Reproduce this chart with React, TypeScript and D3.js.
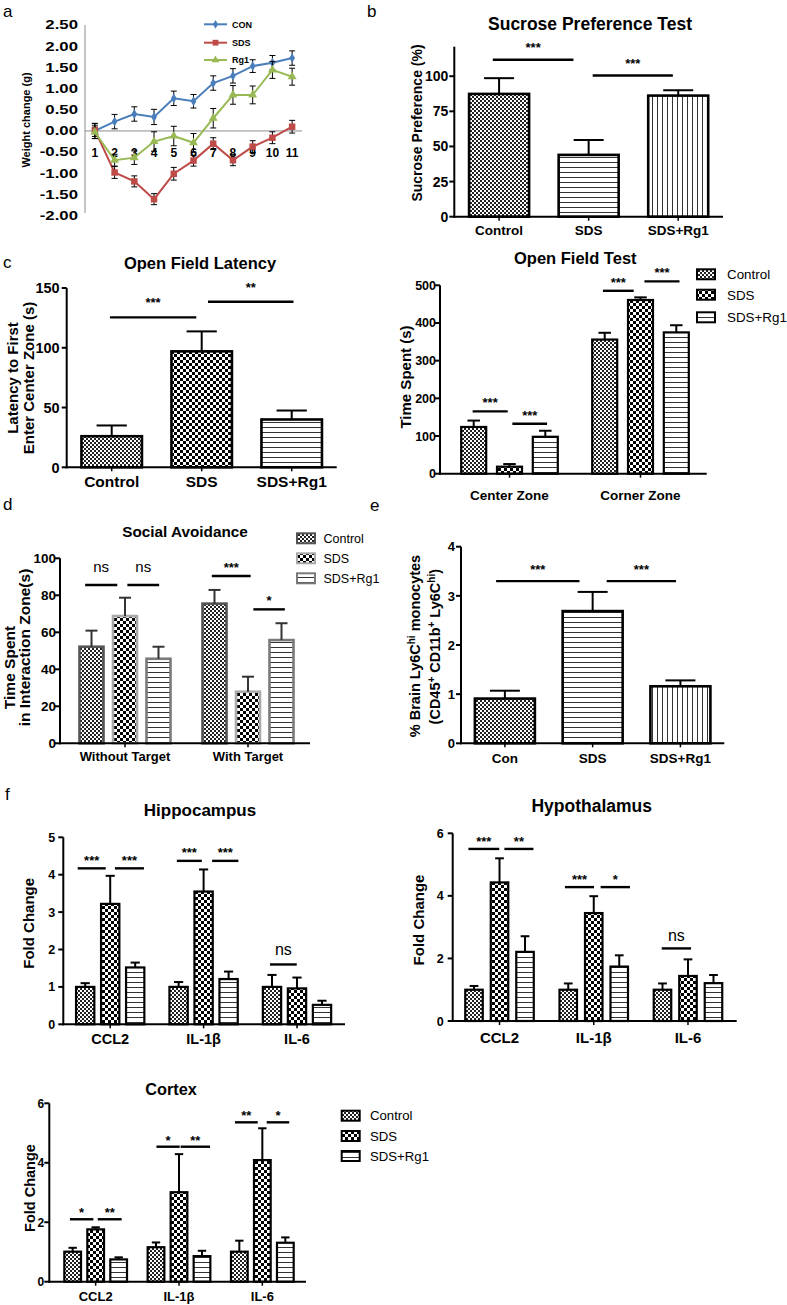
import React from "react";
import * as d3 from "d3";

const FONT = "'Liberation Sans', Arial, Helvetica, sans-serif";

// ---------- Panel a: weight change ----------
const A_DAYS = ["1", "2", "3", "4", "5", "6", "7", "8", "9", "10", "11"];
const A_TICKS = [-2, -1.5, -1, -0.5, 0, 0.5, 1, 1.5, 2, 2.5];
const A_CON = [0.0, 0.22, 0.4, 0.33, 0.77, 0.7, 1.13, 1.3, 1.53, 1.61, 1.72];
const A_CON_ERR = [0.18, 0.17, 0.17, 0.18, 0.17, 0.16, 0.17, 0.17, 0.15, 0.17, 0.17];
const A_SDS = [0.02, -0.98, -1.19, -1.61, -1.01, -0.7, -0.3, -0.69, -0.37, -0.16, 0.1];
const A_SDS_ERR = [0.15, 0.14, 0.13, 0.13, 0.15, 0.13, 0.14, 0.13, 0.14, 0.14, 0.15];
const A_RG1 = [-0.03, -0.69, -0.63, -0.25, -0.12, -0.28, 0.3, 0.85, 0.85, 1.44, 1.28];
const A_RG1_ERR = [0.15, 0.14, 0.16, 0.23, 0.23, 0.22, 0.23, 0.22, 0.21, 0.2, 0.2];
const A_NAMES = ["CON", "SDS", "Rg1"];

// ---------- Panel b: sucrose preference ----------
const B_CATS = ["Control", "SDS", "SDS+Rg1"];
const B_MEAN = [87.4, 44, 86.2];
const B_SEM = [11.2, 10.6, 3.8];
const B_TICKS = [0, 25, 50, 75, 100];
const B_SIG = [
  { g: 0, a: -0.07, b: 0.83, y: 111.7, label: "***" },
  { g: 0, a: 1.045, b: 1.94, y: 100.5, label: "***" },
];

// ---------- Panel c: open field latency ----------
const C_CATS = ["Control", "SDS", "SDS+Rg1"];
const C_MEAN = [26, 97, 40];
const C_SEM = [9, 16.7, 7.5];
const C_TICKS = [0, 50, 100, 150];
const C_SIG = [
  { g: 0, a: -0.02, b: 0.94, y: 125.4, label: "***" },
  { g: 0, a: 1.07, b: 2.02, y: 138.5, label: "**" },
];

// ---------- Open field test ----------
const O_GROUPS = ["Center Zone", "Corner Zone"];
const O_CONTROL = [124, 356];
const O_CONTROL_SEM = [17, 18];
const O_SDS = [18.6, 461];
const O_SDS_SEM = [7, 7];
const O_RG1 = [98, 375];
const O_RG1_SEM = [16, 19];
const O_TICKS = [0, 100, 200, 300, 400, 500];
const O_SIG = [
  { g: 0, a: -0.03, b: 0.95, y: 165.5, label: "***" },
  { g: 0, a: 1.08, b: 2.05, y: 132.6, label: "***" },
  { g: 1, a: -0.05, b: 0.81, y: 485.4, label: "***" },
  { g: 1, a: 1.11, b: 2.09, y: 510.3, label: "***" },
];

// ---------- Panel d: social avoidance ----------
const D_GROUPS = ["Without Target", "With Target"];
const D_CONTROL = [52.2, 75.5];
const D_CONTROL_SEM = [8.7, 7.4];
const D_SDS = [68.8, 27.9];
const D_SDS_SEM = [9.9, 8.1];
const D_RG1 = [45.7, 55.8];
const D_RG1_SEM = [6.5, 9.1];
const D_TICKS = [0, 20, 40, 60, 80, 100];
const D_SIG = [
  { g: 0, a: -0.19, b: 0.77, y: 85.6, label: "ns" },
  { g: 0, a: 1.07, b: 2.02, y: 85.6, label: "ns" },
  { g: 1, a: -0.08, b: 1.08, y: 90.4, label: "***" },
  { g: 1, a: 1.16, b: 2.1, y: 72.4, label: "*" },
];

// ---------- Panel e: Ly6C hi monocytes ----------
const E_CATS = ["Con", "SDS", "SDS+Rg1"];
const E_MEAN = [0.91, 2.69, 1.16];
const E_SEM = [0.16, 0.39, 0.12];
const E_TICKS = [0, 1, 2, 3, 4];
const E_SIG = [
  { g: 0, a: -0.1, b: 0.85, y: 3.3, label: "***" },
  { g: 0, a: 1.16, b: 1.95, y: 3.3, label: "***" },
];

// ---------- Panel f: cytokines ----------
const F_GENES = ["CCL2", "IL-1β", "IL-6"];
const HIP_CONTROL = [1.0, 1.0, 1.0];
const HIP_CONTROL_SEM = [0.1, 0.13, 0.32];
const HIP_SDS = [3.22, 3.55, 0.96];
const HIP_SDS_SEM = [0.75, 0.59, 0.29];
const HIP_RG1 = [1.52, 1.21, 0.52];
const HIP_RG1_SEM = [0.13, 0.2, 0.11];
const HIP_TICKS = [0, 1, 2, 3, 4, 5];
const HIP_SIG = [
  { g: 0, a: -0.3, b: 0.82, y: 4.17, label: "***" },
  { g: 0, a: 1.19, b: 2.35, y: 4.17, label: "***" },
  { g: 1, a: -0.07, b: 0.93, y: 4.37, label: "***" },
  { g: 1, a: 1.34, b: 2.39, y: 4.37, label: "***" },
  { g: 2, a: -0.08, b: 0.99, y: 1.6, label: "ns" },
];

const HYP_CONTROL = [1.0, 1.0, 1.0];
const HYP_CONTROL_SEM = [0.12, 0.2, 0.2];
const HYP_SDS = [4.43, 3.45, 1.44];
const HYP_SDS_SEM = [0.77, 0.54, 0.53];
const HYP_RG1 = [2.21, 1.74, 1.21];
const HYP_RG1_SEM = [0.5, 0.36, 0.26];
const HYP_TICKS = [0, 2, 4, 6];
const HYP_SIG = [
  { g: 0, a: -0.22, b: 0.99, y: 5.5, label: "***" },
  { g: 0, a: 1.19, b: 2.33, y: 5.5, label: "**" },
  { g: 1, a: -0.13, b: 1.01, y: 4.28, label: "***" },
  { g: 1, a: 1.27, b: 2.42, y: 4.28, label: "*" },
  { g: 2, a: -0.03, b: 1.12, y: 2.32, label: "ns" },
];

const COR_CONTROL = [1.01, 1.16, 1.01];
const COR_CONTROL_SEM = [0.13, 0.16, 0.37];
const COR_SDS = [1.76, 3.01, 4.09];
const COR_SDS_SEM = [0.07, 1.28, 1.07];
const COR_RG1 = [0.75, 0.86, 1.31];
const COR_RG1_SEM = [0.07, 0.18, 0.18];
const COR_TICKS = [0, 2, 4, 6];
const COR_SIG = [
  { g: 0, a: -0.12, b: 0.9, y: 2.1, label: "*" },
  { g: 0, a: 1.09, b: 2.13, y: 2.1, label: "**" },
  { g: 1, a: 0.02, b: 1.03, y: 4.54, label: "*" },
  { g: 1, a: 1.07, b: 2.35, y: 4.54, label: "**" },
  { g: 2, a: -0.19, b: 0.8, y: 5.36, label: "**" },
  { g: 2, a: 1.19, b: 2.17, y: 5.36, label: "*" },
];

const LEGEND = ["Control", "SDS", "SDS+Rg1"];

// ---------- pattern fills ----------
const FINE = "url(#pFine)";
const CHK = "url(#pChk)";
const HL = "url(#pH)";
const VL = "url(#pV)";

function Defs() {
  return (
    <defs>
      <pattern id="pFine" patternUnits="userSpaceOnUse" width={4} height={4}>
        <rect width={4} height={4} fill="#fff" />
        <rect width={2} height={2} fill="#222" />
        <rect x={2} y={2} width={2} height={2} fill="#222" />
      </pattern>
      <pattern id="pChk" patternUnits="userSpaceOnUse" width={6} height={6}>
        <rect width={6} height={6} fill="#fff" />
        <rect width={3} height={3} fill="#000" />
        <rect x={3} y={3} width={3} height={3} fill="#000" />
      </pattern>
      <pattern id="pH" patternUnits="userSpaceOnUse" width={6} height={5}>
        <rect width={6} height={5} fill="#fff" />
        <rect y={2} width={6} height={1} fill="#333" />
      </pattern>
      <pattern id="pV" patternUnits="userSpaceOnUse" width={5} height={6}>
        <rect width={5} height={6} fill="#fff" />
        <rect x={2} width={1} height={6} fill="#333" />
      </pattern>
    </defs>
  );
}

type Sig = { g: number; a: number; b: number; y: number; label: string };
type Series = { mean: number[]; sem: number[]; fill: string; stroke?: string };

interface ChartProps {
  cats: string[];
  band: [number, number];
  x0: number;
  x1: number;
  yTop: number;
  yBot: number;
  domain: [number, number];
  ticks: number[];
  barW: number;
  mean?: number[];
  sem?: number[];
  fills?: string[];
  series?: Series[];
  inner?: number;
  sig: Sig[];
  tickFs: number;
  tickGap: number;
  catFs: number;
  catY: number;
  starOff: number;
  nsOff?: number;
  nsFs?: number;
  barSW?: number;
  errColor?: string;
}

function BarChart(p: ChartProps) {
  const y = d3.scaleLinear().domain(p.domain).range([p.yBot, p.yTop]);
  const band = d3.scaleBand<string>().domain(p.cats).range(p.band).padding(0);
  const gc = (i: number) => (band(p.cats[i]) as number) + band.bandwidth() / 2;
  const bars: { x: number; v: number; e: number; fill: string; stroke: string }[] = [];
  if (p.series) {
    p.cats.forEach((_, gi) =>
      p.series!.forEach((s, si) =>
        bars.push({
          x: gc(gi) + (si - 1) * (p.inner as number),
          v: s.mean[gi],
          e: s.sem[gi],
          fill: s.fill,
          stroke: s.stroke || "#000",
        })
      )
    );
  } else {
    p.cats.forEach((_, i) =>
      bars.push({ x: gc(i), v: p.mean![i], e: p.sem![i], fill: p.fills![i], stroke: "#000" })
    );
  }
  const sx = (g: number, a: number) =>
    p.series ? gc(g) + (a - 1) * (p.inner as number) : gc(0) + a * band.step();
  const bw = p.barW;
  const ec = p.errColor || "#000";
  const sw = p.barSW || 2.2;
  return (
    <g fontFamily={FONT}>
      {bars.map((b, i) => (
        <g key={i}>
          <rect
            x={b.x - bw / 2}
            y={y(b.v)}
            width={bw}
            height={p.yBot - y(b.v)}
            fill={b.fill}
            stroke={b.stroke}
            strokeWidth={sw}
          />
          <line x1={b.x} x2={b.x} y1={y(b.v)} y2={y(b.v + b.e)} stroke={ec} strokeWidth={2} />
          <line
            x1={b.x - bw / 4}
            x2={b.x + bw / 4}
            y1={y(b.v + b.e)}
            y2={y(b.v + b.e)}
            stroke={ec}
            strokeWidth={2}
          />
        </g>
      ))}
      <line x1={p.x0} x2={p.x0} y1={p.yTop} y2={p.yBot + 1} stroke="#000" strokeWidth={2} />
      <line x1={p.x0 - 1} x2={p.x1} y1={p.yBot} y2={p.yBot} stroke="#000" strokeWidth={2} />
      {p.ticks.map((t) => (
        <g key={t}>
          <line x1={p.x0 - 5} x2={p.x0} y1={y(t)} y2={y(t)} stroke="#000" strokeWidth={2} />
          <text
            x={p.x0 - p.tickGap}
            y={y(t)}
            dy="0.36em"
            textAnchor="end"
            fontSize={p.tickFs}
            fontWeight="bold"
          >
            {t}
          </text>
        </g>
      ))}
      {p.cats.map((c, i) => (
        <g key={c}>
          <line x1={gc(i)} x2={gc(i)} y1={p.yBot} y2={p.yBot + 4} stroke="#000" strokeWidth={1.5} />
          <text x={gc(i)} y={p.catY} textAnchor="middle" fontSize={p.catFs} fontWeight="bold">
            {c}
          </text>
        </g>
      ))}
      {p.sig.map((s, i) => {
        const xa = sx(s.g, s.a);
        const xb = sx(s.g, s.b);
        const yy = y(s.y);
        const isNs = s.label === "ns";
        return (
          <g key={i}>
            <line x1={xa} x2={xb} y1={yy} y2={yy} stroke="#000" strokeWidth={2.4} />
            <text
              x={(xa + xb) / 2}
              y={yy - (isNs ? p.nsOff || 10 : p.starOff)}
              textAnchor="middle"
              fontSize={isNs ? p.nsFs || 15 : 13}
              fontWeight={isNs ? "normal" : "bold"}
            >
              {s.label}
            </text>
          </g>
        );
      })}
    </g>
  );
}

function YTitle({ x, y, fs, children }: { x: number; y: number; fs: number; children: any }) {
  return (
    <text
      transform={`translate(${x},${y}) rotate(-90)`}
      textAnchor="middle"
      dy="0.35em"
      fontSize={fs}
      fontWeight="bold"
      fontFamily={FONT}
    >
      {children}
    </text>
  );
}

function Title({ x, y, fs, text }: { x: number; y: number; fs: number; text: string }) {
  return (
    <text x={x} y={y} textAnchor="middle" fontSize={fs} fontWeight="bold" fontFamily={FONT}>
      {text}
    </text>
  );
}

function Legend({
  x,
  ys,
  fills,
  strokes,
  fs,
  tx,
}: {
  x: number;
  ys: number[];
  fills: string[];
  strokes: string[];
  fs: number;
  tx: number;
}) {
  return (
    <g fontFamily={FONT}>
      {LEGEND.map((l, i) => (
        <g key={l}>
          <rect x={x} y={ys[i] - 5} width={18} height={10} fill={fills[i]} stroke={strokes[i]} strokeWidth={2} />
          <text x={tx} y={ys[i]} dy="0.36em" fontSize={fs}>
            {l}
          </text>
        </g>
      ))}
    </g>
  );
}

function PanelLabel({ x, y, t }: { x: number; y: number; t: string }) {
  return (
    <text x={x} y={y} fontSize={17} fontFamily={FONT}>
      {t}
    </text>
  );
}

function PanelA() {
  const x = d3.scaleBand<string>().domain(A_DAYS).range([85, 302]).padding(0);
  const y = d3.scaleLinear().domain([-2, 2.5]).range([215.7, 25]);
  const cx = (i: number) => (x(A_DAYS[i]) as number) + x.bandwidth() / 2;
  const series = [
    { name: A_NAMES[0], mean: A_CON, err: A_CON_ERR, color: "#4A7EBB", sym: d3.symbolDiamond, size: 28 },
    { name: A_NAMES[1], mean: A_SDS, err: A_SDS_ERR, color: "#BE4B48", sym: d3.symbolSquare, size: 42 },
    { name: A_NAMES[2], mean: A_RG1, err: A_RG1_ERR, color: "#98B954", sym: d3.symbolTriangle, size: 34 },
  ];
  const line = d3
    .line<number>()
    .x((_, i) => cx(i))
    .y((d) => y(d));
  const legY = [24.3, 42.7, 60];
  return (
    <g fontFamily={FONT}>
      <line x1={85} x2={85} y1={y(2.5)} y2={213} stroke="#8c8c8c" strokeWidth={1} />
      <line x1={85} x2={302} y1={y(0)} y2={y(0)} stroke="#8c8c8c" strokeWidth={1} />
      {A_TICKS.map((t) => (
        <text
          key={t}
          transform={`translate(78,${y(t)}) scale(1.4,1)`}
          dy="0.36em"
          textAnchor="end"
          fontSize={12}
          fontWeight="bold"
        >
          {t.toFixed(2)}
        </text>
      ))}
      {A_DAYS.map((d, i) => (
        <text key={d} x={cx(i)} y={156.5} textAnchor="middle" fontSize={12} fontWeight="bold">
          {d}
        </text>
      ))}
      <text
        transform="translate(26,120) rotate(-90)"
        textAnchor="middle"
        dy="0.35em"
        fontSize={11}
        fontWeight="bold"
      >
        Weight change (g)
      </text>
      {series.map((s) => (
        <g key={s.name}>
          <path d={line(s.mean) || ""} fill="none" stroke={s.color} strokeWidth={2} />
          {s.mean.map((m, i) => (
            <g key={i} stroke="#000" strokeWidth={1}>
              <line x1={cx(i)} x2={cx(i)} y1={y(m - s.err[i])} y2={y(m + s.err[i])} />
              <line x1={cx(i) - 3} x2={cx(i) + 3} y1={y(m - s.err[i])} y2={y(m - s.err[i])} />
              <line x1={cx(i) - 3} x2={cx(i) + 3} y1={y(m + s.err[i])} y2={y(m + s.err[i])} />
            </g>
          ))}
          {s.mean.map((m, i) => (
            <path
              key={"m" + i}
              transform={`translate(${cx(i)},${y(m)})`}
              d={d3.symbol().type(s.sym).size(s.size)() || ""}
              fill={s.color}
            />
          ))}
        </g>
      ))}
      {series.map((s, i) => (
        <g key={"leg" + i}>
          <line x1={204} x2={227} y1={legY[i]} y2={legY[i]} stroke={s.color} strokeWidth={2} />
          <path
            transform={`translate(215.5,${legY[i]})`}
            d={d3.symbol().type(s.sym).size(s.size * 0.8)() || ""}
            fill={s.color}
          />
          <text x={232} y={legY[i]} dy="0.36em" fontSize={9} fontWeight="bold">
            {s.name}
          </text>
        </g>
      ))}
    </g>
  );
}

const GREY_STROKES = ["#555", "#aaa", "#7a7a7a"];

export default function App() {
  return (
    <svg
      width={787}
      height={1305}
      viewBox="0 0 787 1305"
      style={{ position: "absolute", left: 0, top: 0, background: "#fff" }}
      fontFamily={FONT}
    >
      <Defs />
      <rect width={787} height={1305} fill="#fff" />

      <PanelLabel x={3} y={17} t="a" />
      <PanelLabel x={367} y={17} t="b" />
      <PanelLabel x={3} y={268} t="c" />
      <PanelLabel x={3} y={510} t="d" />
      <PanelLabel x={370} y={511} t="e" />
      <PanelLabel x={5} y={800} t="f" />

      <PanelA />

      {/* b */}
      <Title x={590} y={30} fs={17.5} text="Sucrose Preference Test" />
      <YTitle x={417} y={123} fs={14}>Sucrose Preference (%)</YTitle>
      <BarChart
        cats={B_CATS}
        band={[454.3, 723]}
        x0={454.3}
        x1={723}
        yTop={46.7}
        yBot={216.7}
        domain={[0, 121]}
        ticks={B_TICKS}
        barW={60}
        mean={B_MEAN}
        sem={B_SEM}
        fills={[FINE, HL, VL]}
        sig={B_SIG}
        tickFs={14}
        tickGap={6}
        catFs={13.5}
        catY={235}
        starOff={8}
        barSW={2.6}
      />

      {/* c */}
      <Title x={200} y={268.5} fs={16.5} text="Open Field Latency" />
      <YTitle x={13} y={378} fs={15}>Latency to First</YTitle>
      <YTitle x={28.5} y={378} fs={15}>Enter Center Zone (s)</YTitle>
      <BarChart
        cats={C_CATS}
        band={[66.7, 336.7]}
        x0={66.7}
        x1={336.7}
        yTop={288}
        yBot={467.3}
        domain={[0, 150]}
        ticks={C_TICKS}
        barW={60.5}
        mean={C_MEAN}
        sem={C_SEM}
        fills={[FINE, CHK, HL]}
        sig={C_SIG}
        tickFs={14.5}
        tickGap={7}
        catFs={15.5}
        catY={486.5}
        starOff={10}
        barSW={2.6}
      />

      {/* open field test */}
      <Title x={575.3} y={263.5} fs={16.5} text="Open Field Test" />
      <YTitle x={405.5} y={377} fs={15}>Time Spent (s)</YTitle>
      <BarChart
        cats={O_GROUPS}
        band={[444, 706]}
        x0={440}
        x1={706.7}
        yTop={285.3}
        yBot={473.7}
        domain={[0, 500]}
        ticks={O_TICKS}
        barW={25}
        series={[
          { mean: O_CONTROL, sem: O_CONTROL_SEM, fill: FINE },
          { mean: O_SDS, sem: O_SDS_SEM, fill: CHK },
          { mean: O_RG1, sem: O_RG1_SEM, fill: HL },
        ]}
        inner={35.8}
        sig={O_SIG}
        tickFs={12.5}
        tickGap={4}
        catFs={13.5}
        catY={499.7}
        starOff={4}
      />
      <Legend x={697} ys={[274.3, 294.7, 317.3]} fills={[FINE, CHK, HL]} strokes={["#000", "#000", "#000"]} fs={13.4} tx={727} />

      {/* d */}
      <Title x={185} y={536.7} fs={15.3} text="Social Avoidance" />
      <YTitle x={10} y={667.5} fs={15.5}>Time Spent</YTitle>
      <YTitle x={25} y={647.5} fs={15.5}>in Interaction Zone(s)</YTitle>
      <BarChart
        cats={D_GROUPS}
        band={[63.5, 309.5]}
        x0={60}
        x1={310}
        yTop={558.3}
        yBot={743.3}
        domain={[0, 100]}
        ticks={D_TICKS}
        barW={24}
        series={[
          { mean: D_CONTROL, sem: D_CONTROL_SEM, fill: FINE, stroke: GREY_STROKES[0] },
          { mean: D_SDS, sem: D_SDS_SEM, fill: CHK, stroke: GREY_STROKES[1] },
          { mean: D_RG1, sem: D_RG1_SEM, fill: HL, stroke: GREY_STROKES[2] },
        ]}
        inner={33.5}
        sig={D_SIG}
        tickFs={13.5}
        tickGap={4}
        catFs={13}
        catY={761}
        starOff={4}
        nsOff={12.5}
        nsFs={15}
        barSW={2.6}
        errColor="#333"
      />
      <Legend x={297} ys={[538.3, 558.3, 578.3]} fills={[FINE, CHK, HL]} strokes={GREY_STROKES} fs={12.5} tx={323.5} />

      {/* e */}
      <text
        transform="translate(415,646) rotate(-90)"
        textAnchor="middle"
        dy="0.35em"
        fontSize={14.5}
        fontWeight="bold"
        fontFamily={FONT}
      >
        % Brain Ly6C<tspan fontSize={10} dy="-5">hi</tspan>
        <tspan dy="5"> monocytes</tspan>
      </text>
      <text
        transform="translate(435,646.7) rotate(-90)"
        textAnchor="middle"
        dy="0.35em"
        fontSize={14.5}
        fontWeight="bold"
        fontFamily={FONT}
      >
        (CD45<tspan fontSize={10} dy="-5">+</tspan>
        <tspan dy="5"> CD11b</tspan>
        <tspan fontSize={10} dy="-5">+</tspan>
        <tspan dy="5"> Ly6C</tspan>
        <tspan fontSize={10} dy="-5">hi</tspan>
        <tspan dy="5">)</tspan>
      </text>
      <BarChart
        cats={E_CATS}
        band={[461, 724.3]}
        x0={461}
        x1={724.3}
        yTop={546.7}
        yBot={743.3}
        domain={[0, 4]}
        ticks={E_TICKS}
        barW={60}
        mean={E_MEAN}
        sem={E_SEM}
        fills={[FINE, HL, VL]}
        sig={E_SIG}
        tickFs={13}
        tickGap={6}
        catFs={13.5}
        catY={763}
        starOff={7}
        barSW={2.6}
      />

      {/* f hippocampus */}
      <Title x={200} y={815.5} fs={17} text="Hippocampus" />
      <YTitle x={28.5} y={923.3} fs={15}>Fold Change</YTitle>
      <BarChart
        cats={F_GENES}
        band={[63.5, 343.7]}
        x0={63.3}
        x1={345}
        yTop={837.3}
        yBot={1024.3}
        domain={[0, 5]}
        ticks={HIP_TICKS}
        barW={18.3}
        series={[
          { mean: HIP_CONTROL, sem: HIP_CONTROL_SEM, fill: FINE },
          { mean: HIP_SDS, sem: HIP_SDS_SEM, fill: CHK },
          { mean: HIP_RG1, sem: HIP_RG1_SEM, fill: HL },
        ]}
        inner={25}
        sig={HIP_SIG}
        tickFs={12.5}
        tickGap={8}
        catFs={14.5}
        catY={1044}
        starOff={3.5}
        nsOff={9.5}
        nsFs={16}
      />

      {/* f hypothalamus */}
      <Title x={591.7} y={811.8} fs={17.5} text="Hypothalamus" />
      <YTitle x={418.5} y={920} fs={15}>Fold Change</YTitle>
      <BarChart
        cats={F_GENES}
        band={[452.4, 735.1]}
        x0={452.7}
        x1={736.7}
        yTop={833.3}
        yBot={1021}
        domain={[0, 6]}
        ticks={HYP_TICKS}
        barW={17.5}
        series={[
          { mean: HYP_CONTROL, sem: HYP_CONTROL_SEM, fill: FINE },
          { mean: HYP_SDS, sem: HYP_SDS_SEM, fill: CHK },
          { mean: HYP_RG1, sem: HYP_RG1_SEM, fill: HL },
        ]}
        inner={25.5}
        sig={HYP_SIG}
        tickFs={12.5}
        tickGap={9}
        catFs={15}
        catY={1043.3}
        starOff={3}
        nsOff={7.5}
        nsFs={16}
      />

      {/* f cortex */}
      <Title x={171} y={1095} fs={16.3} text="Cortex" />
      <YTitle x={30} y={1188} fs={14.5}>Fold Change</YTitle>
      <BarChart
        cats={F_GENES}
        band={[54, 304]}
        x0={49.3}
        x1={306}
        yTop={1103.3}
        yBot={1281.7}
        domain={[0, 6]}
        ticks={COR_TICKS}
        barW={16.7}
        series={[
          { mean: COR_CONTROL, sem: COR_CONTROL_SEM, fill: FINE },
          { mean: COR_SDS, sem: COR_SDS_SEM, fill: CHK },
          { mean: COR_RG1, sem: COR_RG1_SEM, fill: HL },
        ]}
        inner={23}
        sig={COR_SIG}
        tickFs={12}
        tickGap={5}
        catFs={13}
        catY={1301}
        starOff={2}
      />
      <Legend x={341.7} ys={[1115.7, 1136, 1156]} fills={[FINE, CHK, HL]} strokes={["#000", "#000", "#000"]} fs={13.2} tx={370} />
    </svg>
  );
}
